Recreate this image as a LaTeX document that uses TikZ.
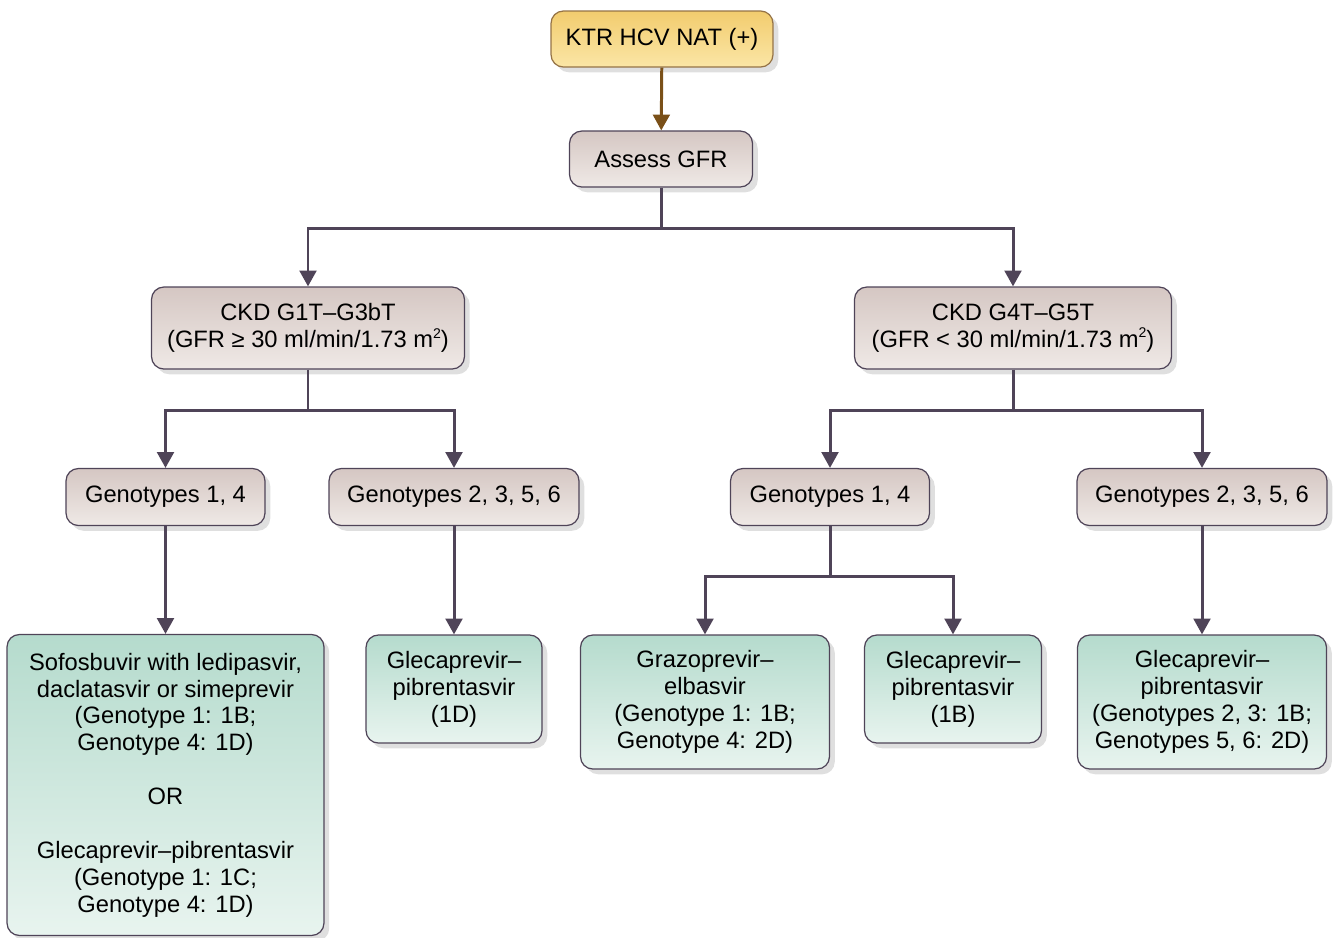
\documentclass[tikz,border=0pt]{standalone}
\usepackage{fontspec}
\setmainfont{Liberation Sans}
\usepackage{tikz}
\usetikzlibrary{arrows.meta,shadows,calc}
\definecolor{linkgray}{HTML}{4F4458}
\definecolor{linkbrown}{HTML}{7A5018}
\definecolor{ktrtop}{HTML}{F2CC6E}
\definecolor{ktrbot}{HTML}{FBE6A6}
\definecolor{graytop}{HTML}{D5C7C3}
\definecolor{graybot}{HTML}{EFE9E6}
\definecolor{drugtop}{HTML}{B5DBCD}
\definecolor{drugbot}{HTML}{E8F4EF}
\newcommand{\sqm}{m\raisebox{0.75ex}{\fontsize{8}{8}\selectfont 2}}
\tikzset{
    box/.style={draw=#1, line width=0.7pt, rounded corners=7pt, align=center,
        font=\fontsize{13.5}{15.3}\selectfont, inner sep=2pt,
        drop shadow={opacity=0.25, shadow xshift=3pt, shadow yshift=-3pt}},
    startbox/.style={box=linkbrown!80, top color=ktrtop, bottom color=ktrbot},
    graybox/.style={box=linkgray, top color=graytop, bottom color=graybot},
    drugbox/.style={box=linkgray, top color=drugtop, bottom color=drugbot},
    link/.style={linkgray, line width=1.7pt},
    arr/.style={link, -{Triangle[width=9.5pt,length=9pt]}}
}
\begin{document}
\begin{tikzpicture}[x=0.02cm, y=-0.02cm]
    \useasboundingbox (0,0) rectangle (1338,937);
    % top
    \node [startbox, minimum width=4.44cm, minimum height=1.12cm] (ktr) at (662,39) {KTR HCV NAT (+)};
    \node [graybox, minimum width=3.66cm, minimum height=1.12cm] (gfr) at (661,159) {Assess GFR};
    % CKD stages
    \node [graybox, minimum width=6.26cm, minimum height=1.64cm] (ckdL) at (308,328)
        {CKD G1T--G3bT\\(GFR ≥ 30 ml/min/1.73 \sqm)};
    \node [graybox, minimum width=6.34cm, minimum height=1.64cm] (ckdR) at (1013,328)
        {CKD G4T--G5T\\(GFR < 30 ml/min/1.73 \sqm)};
    % genotypes
    \node [graybox, minimum width=3.98cm, minimum height=1.14cm] (genA) at (165.5,497) {Genotypes 1, 4};
    \node [graybox, minimum width=5.0cm, minimum height=1.14cm] (genB) at (454,497) {Genotypes 2, 3, 5, 6};
    \node [graybox, minimum width=3.98cm, minimum height=1.14cm] (genC) at (830,497) {Genotypes 1, 4};
    \node [graybox, minimum width=5.0cm, minimum height=1.14cm] (genD) at (1202,497) {Genotypes 2, 3, 5, 6};
    % treatments
    \node [drugbox, minimum width=6.34cm, minimum height=6.02cm] (sofo) at (165.5,785)
        {Sofosbuvir with ledipasvir,\\daclatasvir or simeprevir\\(Genotype 1: 1B;\\Genotype 4: 1D)\\[15.3pt]OR\\[15.3pt]
         Glecaprevir--pibrentasvir\\(Genotype 1: 1C;\\Genotype 4: 1D)};
    \node [drugbox, minimum width=3.52cm, minimum height=2.16cm] (glecA) at (454,689)
        {Glecaprevir--\\pibrentasvir\\(1D)};
    \node [drugbox, minimum width=4.98cm, minimum height=2.68cm] (grazo) at (705,702)
        {Grazoprevir--\\elbasvir\\(Genotype 1: 1B;\\Genotype 4: 2D)};
    \node [drugbox, minimum width=3.54cm, minimum height=2.16cm] (glecB) at (953,689)
        {Glecaprevir--\\pibrentasvir\\(1B)};
    \node [drugbox, minimum width=4.98cm, minimum height=2.68cm] (glecC) at (1202,702)
        {Glecaprevir--\\pibrentasvir\\(Genotypes 2, 3: 1B;\\Genotypes 5, 6: 2D)};
    % branch points
    \coordinate (s1) at (661,228);
    \coordinate (s2) at (308,410);
    \coordinate (s3) at (1013,410);
    \coordinate (s4) at (830,576);
    % connectors
    \draw [arr, linkbrown] (ktr) -- (gfr);
    \draw [link] (gfr) -- (s1);
    \draw [arr] (s1) -| (ckdL);
    \draw [arr] (s1) -| (ckdR);
    \draw [link] (ckdL) -- (s2);
    \draw [arr] (s2) -| (genA);
    \draw [arr] (s2) -| (genB);
    \draw [link] (ckdR) -- (s3);
    \draw [arr] (s3) -| (genC);
    \draw [arr] (s3) -| (genD);
    \draw [arr] (genA) -- (sofo);
    \draw [arr] (genB) -- (glecA);
    \draw [link] (genC) -- (s4);
    \draw [arr] (s4) -| (grazo);
    \draw [arr] (s4) -| (glecB);
    \draw [arr] (genD) -- (glecC);
\end{tikzpicture}
\end{document}
